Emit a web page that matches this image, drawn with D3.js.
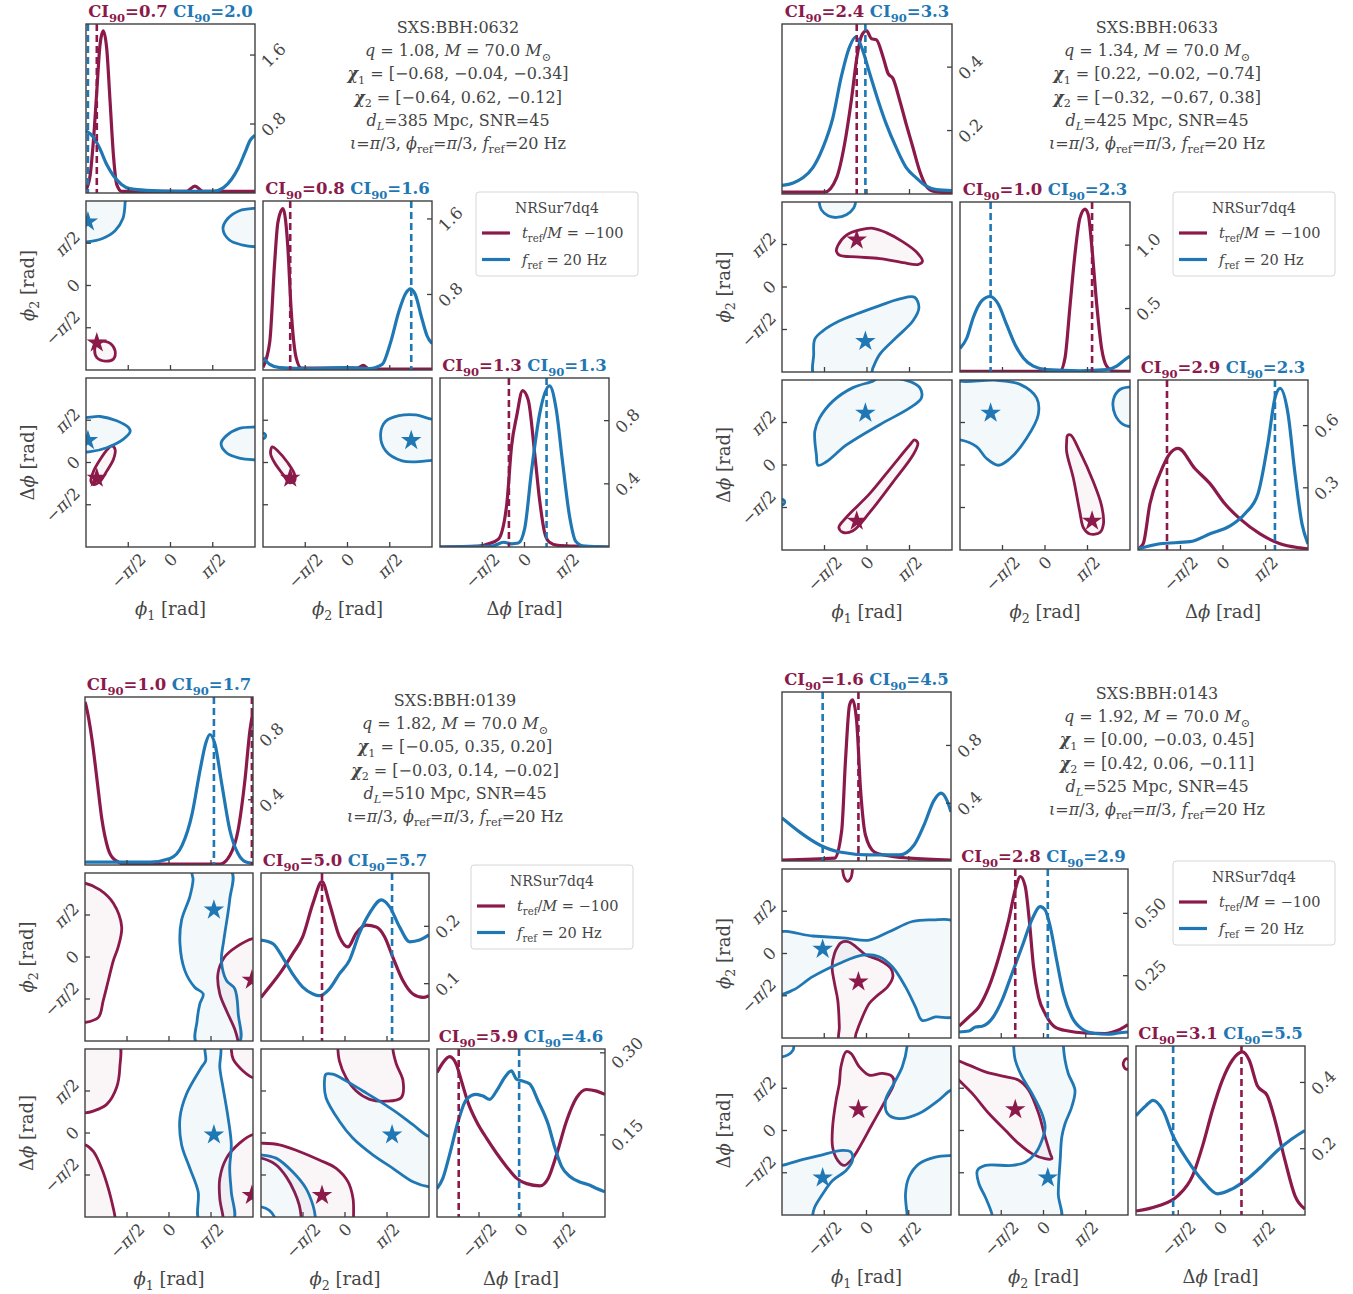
<!DOCTYPE html>
<html>
<head>
<meta charset="utf-8">
<script src="https://cdn.jsdelivr.net/npm/d3@7"></script>
<style>
  body { margin: 0; background: #fff; }
  text { font-family: "DejaVu Serif", "Liberation Serif", serif; fill: #454545; }
</style>
</head>
<body>
<svg id="fig" width="1353" height="1294"></svg>
<script>
// ---------------- shared values ----------------
const angleTicks = [-Math.PI / 2, 0, Math.PI / 2];
const angleTickLabels = ["−π/2", "0", "π/2"];
const totalMass = "70.0";
const snr = 45;
const trefLabel = "−100";
const frefLabel = "20 Hz";

// ---------------- SXS:BBH:0632 ----------------
const r0632_q = 1.08;
const r0632_chi1 = [-0.68, -0.04, -0.34];
const r0632_chi2 = [-0.64, 0.62, -0.12];
const r0632_dL = 385;
const r0632_ci = [["0.7", "2.0"], ["0.8", "1.6"], ["1.3", "1.3"]];
const r0632_top = [1.96, 1.79, 1.07];
const r0632_yticks = [["0.8", "1.6"], ["0.8", "1.6"], ["0.4", "0.8"]];
const r0632_truth_tref = [-2.74, -2.13, -0.58];
const r0632_truth_fref = [-3.07, 2.37, 0.82];
const r0632_phi1_tref = [[-3.14,0.04],[-2.99,0.2],[-2.87,0.59],[-2.74,1.18],[-2.62,1.72],[-2.50,1.88],[-2.37,1.67],[-2.25,1.08],[-2.12,0.43],[-2.00,0.1],[-1.82,0.02],[0.6,0.02],[0.91,0.08],[1.2,0.02],[3.14,0.02]];
const r0632_phi1_fref = [[-3.14,0.72],[-2.87,0.65],[-2.62,0.51],[-2.37,0.33],[-2.12,0.2],[-1.82,0.1],[-1.51,0.05],[-0.89,0.03],[0.35,0.02],[1.59,0.02],[1.96,0.06],[2.27,0.16],[2.52,0.29],[2.77,0.47],[2.96,0.61],[3.14,0.67]];
const r0632_phi2_tref = [[-3.14,0.03],[-2.89,0.3],[-2.71,1.13],[-2.59,1.56],[-2.40,1.71],[-2.22,1.31],[-2.10,0.66],[-1.91,0.13],[-1.72,0.02],[0.37,0.02],[0.58,0.05],[0.80,0.01],[3.14,0.01]];
const r0632_phi2_fref = [[-3.14,0.13],[-2.89,0.06],[-2.52,0.025],[-1.42,0.015],[-0.06,0.025],[0.80,0.015],[1.29,0.06],[1.60,0.29],[1.91,0.62],[2.16,0.81],[2.34,0.86],[2.52,0.80],[2.77,0.54],[2.96,0.36],[3.14,0.28]];
const r0632_dphi_tref = [[-3.14,0],[-1.71,0.005],[-1.34,0.02],[-0.97,0.05],[-0.66,0.27],[-0.48,0.64],[-0.29,0.83],[-0.07,0.99],[0.14,0.93],[0.38,0.59],[0.56,0.30],[0.75,0.09],[0.93,0.03],[1.24,0.01],[1.85,0.005],[3.14,0]];
const r0632_dphi_fref = [[-3.14,0],[-1.21,0.005],[-0.78,0.03],[-0.48,0.02],[-0.23,0.025],[0.01,0.12],[0.26,0.48],[0.56,0.84],[0.93,1.02],[1.18,0.87],[1.42,0.53],[1.67,0.2],[1.91,0.035],[2.22,0.005],[3.14,0]];
const r0632_phi1phi2_tref = [
  [[-2.61,-2.07],[-2.24,-2.15],[-2.06,-2.43],[-2.12,-2.73],[-2.43,-2.81],[-2.74,-2.68],[-2.82,-2.40],[-2.74,-2.15]]
];
const r0632_phi1phi2_fref = [
  [[-1.69,3.30],[-1.69,3.05],[-1.77,2.49],[-2.06,2.04],[-2.55,1.74],[-3.14,1.62],[-3.29,1.62],[-3.29,3.30]],
  [[3.14,2.87],[2.56,2.78],[2.13,2.49],[1.95,2.12],[2.19,1.69],[2.69,1.50],[3.14,1.44],[3.37,1.44],[3.37,2.87]]
];
const r0632_phi1dphi_tref = [
  [[-2.18,0.62],[-2.06,0.49],[-2.12,0.12],[-2.37,-0.32],[-2.61,-0.69],[-2.86,-0.82],[-2.96,-0.69],[-2.86,-0.32],[-2.61,0.12],[-2.34,0.49]]
];
const r0632_phi1dphi_fref = [
  [[-3.14,1.67],[-2.61,1.71],[-2.0,1.55],[-1.56,1.30],[-1.50,1.15],[-1.75,0.87],[-2.37,0.55],[-2.98,0.40],[-3.14,0.39],[-3.35,0.39],[-3.35,1.67]],
  [[3.14,1.32],[2.56,1.27],[2.07,0.99],[1.88,0.70],[2.07,0.37],[2.56,0.16],[3.14,0.10],[3.37,0.10],[3.37,1.32]]
];
const r0632_phi2dphi_tref = [
  [[-2.80,0.58],[-2.59,0.43],[-2.22,-0.01],[-1.97,-0.44],[-1.97,-0.69],[-2.16,-0.75],[-2.40,-0.44],[-2.71,-0.01],[-2.86,0.33]]
];
const r0632_phi2dphi_fref = [
  [[3.14,1.61],[2.53,1.77],[1.91,1.74],[1.42,1.53],[1.23,1.05],[1.42,0.43],[2.03,0.06],[2.65,0.03],[3.14,0.08],[3.39,0.08],[3.39,1.61]],
  [[-3.04,0.99],[-3.07,1.06],[-3.14,1.09],[-3.21,1.06],[-3.24,0.99],[-3.21,0.92],[-3.14,0.89],[-3.07,0.92]]
];

// ---------------- SXS:BBH:0633 ----------------
const r0633_q = 1.34;
const r0633_chi1 = [0.22, -0.02, -0.74];
const r0633_chi2 = [-0.32, -0.67, 0.38];
const r0633_dL = 425;
const r0633_ci = [["2.4", "3.3"], ["1.0", "2.3"], ["2.9", "2.3"]];
const r0633_top = [0.536, 1.34, 0.82];
const r0633_yticks = [["0.2", "0.4"], ["0.5", "1.0"], ["0.3", "0.6"]];
const r0633_truth_tref = [-0.38, 1.74, -2.07];
const r0633_truth_fref = [-0.06, -2.01, 1.92];
const r0633_phi1_tref = [[-3.14,0.006],[-1.56,0.006],[-1.13,0.05],[-0.83,0.157],[-0.58,0.295],[-0.37,0.433],[-0.21,0.497],[-0.02,0.515],[0.16,0.49],[0.35,0.486],[0.59,0.433],[0.78,0.38],[0.96,0.364],[1.21,0.295],[1.45,0.22],[1.70,0.146],[1.95,0.072],[2.19,0.025],[2.44,0.009],[3.14,0.003]];
const r0633_phi1_fref = [[-3.14,0.027],[-2.73,0.035],[-2.37,0.051],[-2.0,0.083],[-1.63,0.146],[-1.26,0.241],[-0.95,0.37],[-0.64,0.465],[-0.42,0.495],[-0.21,0.465],[0.10,0.38],[0.41,0.295],[0.71,0.221],[1.08,0.146],[1.45,0.083],[1.82,0.051],[2.19,0.025],[2.56,0.014],[3.14,0.011]];
const r0633_phi2_tref = [[-3.14,0.005],[0.55,0.005],[0.74,0.111],[0.92,0.51],[1.11,0.934],[1.29,1.213],[1.48,1.284],[1.60,1.24],[1.72,1.013],[1.91,0.536],[2.09,0.19],[2.28,0.046],[2.53,0.008],[3.14,0.005]];
const r0633_phi2_fref = [[-3.14,0.186],[-2.89,0.268],[-2.65,0.43],[-2.34,0.56],[-2.03,0.595],[-1.73,0.536],[-1.42,0.375],[-1.11,0.217],[-0.80,0.111],[-0.43,0.046],[0.06,0.019],[1.29,0.01],[2.28,0.019],[2.65,0.046],[2.96,0.098],[3.14,0.125]];
const r0633_dphi_tref = [[-3.14,0.005],[-2.95,0.03],[-2.70,0.223],[-2.33,0.369],[-1.96,0.466],[-1.66,0.49],[-1.04,0.393],[-0.48,0.32],[0.07,0.223],[0.63,0.15],[1.37,0.078],[2.11,0.03],[2.85,0.01],[3.14,0.005]];
const r0633_dphi_fref = [[-3.14,0.005],[-2.33,0.03],[-1.22,0.04],[-0.48,0.078],[0.26,0.116],[0.81,0.175],[1.29,0.27],[1.66,0.514],[1.92,0.733],[2.11,0.78],[2.40,0.66],[2.66,0.369],[2.92,0.126],[3.14,0.03]];
const r0633_phi1phi2_tref = [
  [[-1.07,1.55],[-0.76,1.92],[-0.27,2.11],[0.22,2.17],[0.71,2.01],[1.33,1.67],[1.82,1.30],[2.05,0.95],[1.88,0.83],[1.33,0.90],[0.47,1.05],[-0.39,1.11],[-1.01,1.17],[-1.13,1.32]]
];
const r0633_phi1phi2_fref = [
  [[-1.77,3.14],[-1.69,2.86],[-1.44,2.63],[-1.13,2.57],[-0.76,2.67],[-0.49,2.92],[-0.42,3.14],[-0.42,3.35],[-1.77,3.35]],
  [[-1.93,-1.93],[-1.63,-1.62],[-1.01,-1.25],[-0.39,-1.0],[0.47,-0.69],[1.21,-0.44],[1.76,-0.38],[1.92,-0.76],[1.70,-1.25],[1.08,-1.87],[0.47,-2.49],[0.22,-2.99],[0.10,-3.30],[-1.93,-3.30],[-1.97,-2.49]]
];
const r0633_phi1dphi_tref = [
  [[1.76,0.93],[1.88,0.80],[1.70,0.37],[0.96,-0.63],[0.10,-1.75],[-0.52,-2.43],[-0.89,-2.49],[-1.04,-2.31],[-0.76,-1.93],[0.10,-1.06],[0.96,-0.01],[1.58,0.74]]
];
const r0633_phi1dphi_fref = [
  [[-1.87,0.37],[-1.93,1.24],[-1.75,1.74],[-1.26,2.36],[-0.52,2.86],[0.22,3.10],[0.47,3.23],[1.45,3.13],[1.95,2.86],[2.01,2.48],[1.58,2.11],[0.47,1.49],[-0.76,0.74],[-1.50,0.12],[-1.81,-0.01]],
  [[-3.04,-1.37],[-3.07,-1.30],[-3.14,-1.27],[-3.21,-1.30],[-3.24,-1.37],[-3.21,-1.44],[-3.14,-1.47],[-3.07,-1.44]]
];
const r0633_phi2dphi_tref = [
  [[0.83,1.09],[0.95,1.11],[1.29,0.49],[1.79,-0.63],[2.09,-1.50],[2.16,-2.18],[2.03,-2.49],[1.66,-2.55],[1.42,-2.32],[1.29,-1.75],[1.05,-0.50],[0.80,0.49],[0.80,0.86]]
];
const r0633_phi2dphi_fref = [
  [[-3.14,3.10],[-1.79,3.13],[-0.92,2.98],[-0.31,2.48],[-0.25,1.86],[-0.68,0.99],[-1.29,0.24],[-1.72,-0.01],[-2.16,0.24],[-2.53,0.68],[-3.14,0.93],[-3.39,0.93],[-3.39,3.23]],
  [[3.14,2.88],[2.77,2.79],[2.53,2.42],[2.59,1.86],[2.90,1.49],[3.14,1.42],[3.33,1.42],[3.33,2.88]]
];

// ---------------- SXS:BBH:0139 ----------------
const r0139_q = 1.82;
const r0139_chi1 = [-0.05, 0.35, 0.20];
const r0139_chi2 = [-0.03, 0.14, -0.02];
const r0139_dL = 510;
const r0139_ci = [["1.0", "1.7"], ["5.0", "5.7"], ["5.9", "4.6"]];
const r0139_top = [1.03, 0.293, 0.307];
const r0139_yticks = [["0.4", "0.8"], ["0.1", "0.2"], ["0.15", "0.30"]];
const r0139_truth_tref = [3.10, -0.86, -2.33];
const r0139_truth_fref = [1.68, 1.76, -0.07];
const r0139_phi1_tref = [[-3.14,1.0],[-3.10,0.975],[-2.88,0.77],[-2.69,0.52],[-2.51,0.28],[-2.28,0.1],[-2.02,0.03],[-1.65,0.006],[1.91,0.006],[2.28,0.06],[2.58,0.21],[2.84,0.52],[3.03,0.83],[3.14,0.94]];
const r0139_phi1_fref = [[-3.14,0.018],[-0.71,0.018],[0.04,0.04],[0.49,0.12],[0.86,0.31],[1.16,0.58],[1.38,0.75],[1.53,0.8],[1.72,0.74],[1.98,0.49],[2.28,0.21],[2.58,0.07],[2.88,0.018],[3.14,0.01]];
const r0139_phi2_tref = [[-3.14,0.076],[-2.83,0.094],[-2.45,0.117],[-1.96,0.152],[-1.58,0.182],[-1.20,0.24],[-0.86,0.278],[-0.58,0.24],[-0.21,0.182],[0.11,0.164],[0.42,0.188],[0.79,0.202],[1.17,0.199],[1.48,0.182],[1.79,0.146],[2.17,0.105],[2.54,0.082],[2.92,0.076],[3.14,0.079]];
const r0139_phi2_fref = [[-3.14,0.176],[-2.70,0.17],[-2.33,0.146],[-1.96,0.117],[-1.58,0.094],[-1.20,0.082],[-0.96,0.079],[-0.58,0.091],[-0.21,0.117],[0.17,0.141],[0.54,0.188],[0.92,0.223],[1.36,0.246],[1.67,0.234],[2.04,0.199],[2.42,0.173],[2.79,0.176],[3.14,0.185]];
const r0139_dphi_tref = [[-3.14,0.264],[-2.92,0.282],[-2.67,0.293],[-2.42,0.279],[-2.23,0.249],[-1.98,0.209],[-1.67,0.175],[-1.29,0.144],[-0.92,0.117],[-0.54,0.092],[-0.17,0.071],[0.21,0.061],[0.71,0.057],[1.02,0.071],[1.33,0.114],[1.70,0.175],[2.08,0.218],[2.45,0.233],[2.83,0.23],[3.14,0.224]];
const r0139_dphi_fref = [[-3.14,0.052],[-2.92,0.071],[-2.67,0.114],[-2.35,0.175],[-2.04,0.215],[-1.67,0.224],[-1.42,0.221],[-1.17,0.215],[-0.92,0.23],[-0.61,0.255],[-0.36,0.267],[-0.17,0.252],[0.02,0.249],[0.33,0.243],[0.64,0.212],[1.02,0.169],[1.27,0.126],[1.52,0.092],[1.83,0.074],[2.20,0.064],[2.58,0.058],[2.83,0.052],[3.14,0.046]];
const r0139_phi1phi2_tref = [
  [[-3.14,2.76],[-2.58,2.51],[-2.08,2.01],[-1.77,1.13],[-1.90,0.38],[-2.08,-0.13],[-2.27,-0.88],[-2.46,-1.63],[-2.64,-2.26],[-3.14,-2.45],[-3.33,-2.45],[-3.33,2.76]],
  [[3.14,0.69],[2.52,0.38],[2.08,0.0],[1.83,-0.63],[1.90,-1.38],[2.15,-2.01],[2.46,-2.70],[2.58,-3.14],[2.60,-3.35],[3.39,-3.35],[3.39,0.69]]
];
const r0139_phi1phi2_fref = [
  [[0.88,3.20],[0.90,2.89],[0.78,2.26],[0.47,1.38],[0.41,0.50],[0.59,-0.50],[0.96,-1.13],[1.28,-1.38],[1.15,-1.76],[1.05,-2.39],[1.03,-3.20],[2.62,-3.20],[2.59,-2.14],[2.46,-1.19],[2.15,-0.88],[1.96,-0.13],[2.05,0.63],[2.27,2.14],[2.33,3.20]]
];
const r0139_phi1dphi_tref = [
  [[-1.90,3.39],[-1.84,2.45],[-1.96,1.70],[-2.33,1.07],[-2.83,0.82],[-3.14,0.75],[-3.33,0.75],[-3.33,3.39]],
  [[-3.14,-0.44],[-2.83,-0.69],[-2.52,-1.32],[-2.27,-2.07],[-2.08,-2.83],[-2.02,-3.14],[-2.02,-3.39],[-3.33,-3.39],[-3.33,-0.44]],
  [[3.14,2.07],[2.77,2.32],[2.40,2.76],[2.33,3.14],[2.33,3.39],[3.39,3.39],[3.39,2.07]],
  [[3.14,-0.06],[2.64,-0.38],[2.15,-0.94],[1.90,-1.70],[1.90,-2.45],[2.02,-3.14],[2.02,-3.39],[3.39,-3.39],[3.39,-0.06]]
];
const r0139_phi1dphi_fref = [
  [[1.37,3.27],[1.37,2.70],[1.21,2.45],[0.65,1.45],[0.41,0.57],[0.47,-0.44],[0.78,-1.32],[1.09,-2.20],[1.15,-3.27],[2.40,-3.27],[2.33,-2.20],[2.27,-1.32],[2.33,-0.44],[2.21,0.57],[2.02,1.70],[1.90,2.45],[1.90,3.27]]
];
const r0139_phi2dphi_tref = [
  [[-0.27,3.20],[-0.21,2.70],[0.04,2.07],[0.42,1.57],[0.92,1.26],[1.54,1.19],[2.10,1.32],[2.17,1.95],[1.92,2.58],[1.79,3.14],[1.79,3.33],[-0.27,3.33]],
  [[-3.14,-0.38],[-2.45,-0.44],[-1.71,-0.69],[-0.96,-1.01],[-0.33,-1.32],[0.11,-1.82],[0.30,-2.45],[0.32,-3.14],[0.32,-3.39],[-3.45,-3.39],[-3.45,-0.38]],
  [[-3.14,-0.94],[-2.58,-1.19],[-2.20,-1.63],[-1.89,-2.20],[-1.71,-2.70],[-1.64,-3.14],[-1.64,-3.39],[-3.45,-3.39],[-3.45,-0.94]]
];
const r0139_phi2dphi_fref = [
  [[-0.71,2.20],[-0.46,2.20],[0.04,1.95],[0.67,1.57],[1.29,1.19],[2.04,0.69],[2.54,0.31],[3.14,-0.13],[3.40,-0.13],[3.40,-2.01],[3.14,-2.01],[2.54,-1.82],[1.79,-1.32],[1.04,-0.82],[0.29,-0.19],[-0.21,0.44],[-0.71,1.32],[-0.77,1.88]],
  [[-3.14,-0.82],[-2.58,-0.94],[-1.96,-1.45],[-1.46,-2.07],[-1.20,-2.70],[-1.11,-3.14],[-1.11,-3.39],[-3.45,-3.39],[-3.45,-0.82]],
  [[-3.14,-2.76],[-2.83,-2.89],[-2.64,-3.14],[-2.58,-3.39],[-3.45,-3.39],[-3.45,-2.76]]
];

// ---------------- SXS:BBH:0143 ----------------
const r0143_q = 1.92;
const r0143_chi1 = [0.00, -0.03, 0.45];
const r0143_chi2 = [0.42, 0.06, -0.11];
const r0143_dL = 525;
const r0143_ci = [["1.6", "4.5"], ["2.8", "2.9"], ["3.1", "5.5"]];
const r0143_top = [1.17, 0.678, 0.51];
const r0143_yticks = [["0.4", "0.8"], ["0.25", "0.50"], ["0.2", "0.4"]];
const r0143_truth_tref = [-0.30, -1.05, 0.78];
const r0143_truth_fref = [-1.63, 0.16, -1.76];
const r0143_phi1_tref = [[-3.14,0.007],[-1.18,0.02],[-0.92,0.215],[-0.78,0.70],[-0.63,1.08],[-0.52,1.115],[-0.37,0.976],[-0.22,0.49],[-0.04,0.18],[0.30,0.062],[0.85,0.035],[1.59,0.02],[3.14,0.007]];
const r0143_phi1_fref = [[-3.14,0.298],[-2.48,0.2],[-1.74,0.111],[-1.0,0.062],[0.11,0.042],[1.22,0.042],[1.77,0.111],[2.14,0.25],[2.51,0.42],[2.77,0.47],[2.99,0.42],[3.14,0.34]];
const r0143_phi2_tref = [[-3.14,0.048],[-2.77,0.085],[-2.40,0.125],[-2.03,0.205],[-1.66,0.325],[-1.29,0.475],[-1.05,0.595],[-0.86,0.648],[-0.68,0.608],[-0.53,0.475],[-0.37,0.285],[-0.18,0.163],[0.06,0.098],[0.43,0.044],[0.92,0.028],[1.54,0.02],[2.28,0.018],[2.77,0.031],[3.14,0.054]];
const r0143_phi2_fref = [[-3.14,0.024],[-2.77,0.028],[-2.53,0.044],[-2.28,0.047],[-1.91,0.078],[-1.54,0.152],[-1.17,0.259],[-0.80,0.366],[-0.43,0.475],[-0.12,0.527],[0.06,0.514],[0.25,0.447],[0.49,0.312],[0.74,0.178],[1.05,0.085],[1.42,0.037],[1.91,0.018],[2.40,0.015],[2.77,0.02],[3.14,0.024]];
const r0143_dphi_tref = [[-3.14,0.012],[-2.33,0.027],[-1.59,0.058],[-1.04,0.118],[-0.66,0.21],[-0.30,0.316],[0.07,0.407],[0.44,0.467],[0.81,0.492],[1.07,0.467],[1.37,0.39],[1.74,0.36],[2.03,0.285],[2.40,0.164],[2.77,0.058],[3.14,0.018]];
const r0143_dphi_fref = [[-3.14,0.3],[-2.77,0.33],[-2.51,0.346],[-2.14,0.316],[-1.77,0.24],[-1.22,0.164],[-0.66,0.103],[-0.11,0.064],[0.44,0.079],[1.0,0.109],[1.55,0.149],[2.11,0.194],[2.66,0.23],[3.14,0.255]];
const r0143_phi1phi2_tref = [
  [[-0.89,3.14],[-0.82,2.81],[-0.70,2.68],[-0.58,2.81],[-0.52,3.14],[-0.52,3.30],[-0.89,3.30]],
  [[-1.07,0.25],[-0.95,0.40],[-0.70,0.44],[-0.39,0.25],[-0.02,-0.06],[0.47,-0.24],[0.90,-0.55],[0.98,-0.86],[0.78,-1.24],[0.35,-1.61],[0.10,-1.86],[-0.15,-2.36],[-0.39,-2.98],[-0.46,-3.23],[-1.01,-3.23],[-1.01,-2.73],[-1.07,-1.73],[-1.19,-1.11],[-1.28,-0.49],[-1.19,0.0]]
];
const r0143_phi1phi2_fref = [
  [[-3.35,0.73],[-2.0,0.65],[-0.76,0.57],[0.10,0.50],[0.84,0.81],[1.70,1.19],[2.44,1.25],[3.30,1.13],[3.30,-2.30],[2.56,-2.36],[2.07,-2.49],[1.82,-1.98],[1.45,-1.24],[0.96,-0.49],[0.47,-0.12],[-0.15,-0.06],[-1.01,-0.37],[-2.0,-0.86],[-2.73,-1.36],[-3.35,-1.51]]
];
const r0143_phi1dphi_tref = [
  [[-0.95,2.37],[-0.76,2.93],[-0.58,2.87],[-0.27,2.37],[0.10,2.06],[0.59,2.12],[0.96,2.0],[1.02,1.75],[0.71,1.13],[0.22,0.25],[-0.33,-0.74],[-0.58,-1.11],[-0.83,-1.30],[-1.07,-1.11],[-1.26,-0.62],[-1.26,0.13],[-1.13,1.13],[-1.01,1.75]]
];
const r0143_phi1dphi_fref = [
  [[-3.14,2.74],[-2.92,2.81],[-2.73,2.99],[-2.70,3.14],[-2.70,3.30],[-3.35,3.30],[-3.35,2.74]],
  [[1.51,3.14],[1.33,2.37],[1.02,1.75],[0.71,1.13],[0.78,0.63],[1.21,0.44],[1.95,0.63],[2.69,1.13],[3.14,1.50],[3.30,1.50],[3.30,3.30],[1.51,3.30]],
  [[-3.14,-1.30],[-2.49,-1.11],[-1.75,-0.93],[-0.89,-0.74],[-0.58,-0.80],[-0.52,-1.11],[-0.76,-1.49],[-1.26,-1.86],[-1.63,-2.36],[-1.93,-2.86],[-2.0,-3.14],[-2.0,-3.35],[-3.35,-3.35],[-3.35,-1.30]],
  [[1.51,-3.14],[1.45,-2.36],[1.58,-1.73],[1.95,-1.24],[2.56,-0.99],[3.14,-0.93],[3.30,-0.93],[3.30,-3.35],[1.51,-3.35]]
];
const r0143_phi2dphi_tref = [
  [[-3.39,2.62],[-2.77,2.43],[-2.16,2.18],[-1.42,2.0],[-0.92,1.87],[-0.55,1.50],[-0.18,0.63],[0.06,-0.24],[0.25,-0.86],[0.31,-1.05],[0.06,-1.05],[-0.43,-0.86],[-0.92,-0.49],[-1.42,0.01],[-2.03,0.63],[-2.65,1.38],[-3.14,1.87],[-3.39,2.12]],
  [[3.10,2.67],[3.22,2.55],[3.22,2.39],[3.10,2.27],[2.98,2.39],[2.98,2.55]]
];
const r0143_phi2dphi_fref = [
  [[-1.11,3.37],[-1.11,3.14],[-1.05,2.62],[-0.80,2.0],[-0.43,1.38],[-0.06,0.63],[0.06,0.13],[-0.06,-0.37],[-0.31,-0.86],[-0.68,-1.18],[-1.17,-1.30],[-2.16,-1.30],[-2.46,-1.49],[-2.40,-1.98],[-2.16,-2.48],[-1.91,-3.14],[-1.91,-3.35],[0.62,-3.35],[0.55,-2.36],[0.62,-1.11],[0.68,-0.24],[0.80,0.25],[1.05,0.88],[1.17,1.50],[0.92,2.12],[0.80,2.62],[0.74,3.14],[0.74,3.37]]
];

// ---------------- page layout ----------------
const layout = [
  { x: 86,  y: 24,  size: 169, step: 177, textX: 458,  textY: 33,  legX: 476,  legY: 192 },
  { x: 782, y: 24,  size: 170, step: 178, textX: 1157, textY: 33,  legX: 1173, legY: 192 },
  { x: 85,  y: 697, size: 168, step: 176, textX: 455,  textY: 706, legX: 471,  legY: 865 },
  { x: 782, y: 692, size: 169, step: 177, textX: 1157, textY: 699, legX: 1173, legY: 861 }
];

// table built from the arrays above
function makeRun(name, p) {
  return {
    name: name, q: p.q, chi1: p.chi1, chi2: p.chi2, dL: p.dL, ci: p.ci, top: p.top, yticks: p.yticks,
    truth: { tref: p.truth_tref, fref: p.truth_fref },
    dens: { tref: [p.phi1_tref, p.phi2_tref, p.dphi_tref], fref: [p.phi1_fref, p.phi2_fref, p.dphi_fref] },
    cont: { "1,0": { tref: p.phi1phi2_tref, fref: p.phi1phi2_fref },
            "2,0": { tref: p.phi1dphi_tref, fref: p.phi1dphi_fref },
            "2,1": { tref: p.phi2dphi_tref, fref: p.phi2dphi_fref } }
  };
}
const runs = [
  makeRun("0632", { q: r0632_q, chi1: r0632_chi1, chi2: r0632_chi2, dL: r0632_dL, ci: r0632_ci, top: r0632_top, yticks: r0632_yticks,
    truth_tref: r0632_truth_tref, truth_fref: r0632_truth_fref,
    phi1_tref: r0632_phi1_tref, phi2_tref: r0632_phi2_tref, dphi_tref: r0632_dphi_tref,
    phi1_fref: r0632_phi1_fref, phi2_fref: r0632_phi2_fref, dphi_fref: r0632_dphi_fref,
    phi1phi2_tref: r0632_phi1phi2_tref, phi1phi2_fref: r0632_phi1phi2_fref,
    phi1dphi_tref: r0632_phi1dphi_tref, phi1dphi_fref: r0632_phi1dphi_fref,
    phi2dphi_tref: r0632_phi2dphi_tref, phi2dphi_fref: r0632_phi2dphi_fref }),
  makeRun("0633", { q: r0633_q, chi1: r0633_chi1, chi2: r0633_chi2, dL: r0633_dL, ci: r0633_ci, top: r0633_top, yticks: r0633_yticks,
    truth_tref: r0633_truth_tref, truth_fref: r0633_truth_fref,
    phi1_tref: r0633_phi1_tref, phi2_tref: r0633_phi2_tref, dphi_tref: r0633_dphi_tref,
    phi1_fref: r0633_phi1_fref, phi2_fref: r0633_phi2_fref, dphi_fref: r0633_dphi_fref,
    phi1phi2_tref: r0633_phi1phi2_tref, phi1phi2_fref: r0633_phi1phi2_fref,
    phi1dphi_tref: r0633_phi1dphi_tref, phi1dphi_fref: r0633_phi1dphi_fref,
    phi2dphi_tref: r0633_phi2dphi_tref, phi2dphi_fref: r0633_phi2dphi_fref }),
  makeRun("0139", { q: r0139_q, chi1: r0139_chi1, chi2: r0139_chi2, dL: r0139_dL, ci: r0139_ci, top: r0139_top, yticks: r0139_yticks,
    truth_tref: r0139_truth_tref, truth_fref: r0139_truth_fref,
    phi1_tref: r0139_phi1_tref, phi2_tref: r0139_phi2_tref, dphi_tref: r0139_dphi_tref,
    phi1_fref: r0139_phi1_fref, phi2_fref: r0139_phi2_fref, dphi_fref: r0139_dphi_fref,
    phi1phi2_tref: r0139_phi1phi2_tref, phi1phi2_fref: r0139_phi1phi2_fref,
    phi1dphi_tref: r0139_phi1dphi_tref, phi1dphi_fref: r0139_phi1dphi_fref,
    phi2dphi_tref: r0139_phi2dphi_tref, phi2dphi_fref: r0139_phi2dphi_fref }),
  makeRun("0143", { q: r0143_q, chi1: r0143_chi1, chi2: r0143_chi2, dL: r0143_dL, ci: r0143_ci, top: r0143_top, yticks: r0143_yticks,
    truth_tref: r0143_truth_tref, truth_fref: r0143_truth_fref,
    phi1_tref: r0143_phi1_tref, phi2_tref: r0143_phi2_tref, dphi_tref: r0143_dphi_tref,
    phi1_fref: r0143_phi1_fref, phi2_fref: r0143_phi2_fref, dphi_fref: r0143_dphi_fref,
    phi1phi2_tref: r0143_phi1phi2_tref, phi1phi2_fref: r0143_phi1phi2_fref,
    phi1dphi_tref: r0143_phi1dphi_tref, phi1dphi_fref: r0143_phi1dphi_fref,
    phi2dphi_tref: r0143_phi2dphi_tref, phi2dphi_fref: r0143_phi2dphi_fref })
];

//colours
const colour = { tref: "#8b1a4b", fref: "#1f77b4" };
const shade = { tref: "rgba(139,26,75,0.045)", fref: "rgba(31,119,180,0.055)" };
const frameColour = "#404040";

const svg = d3.select("#fig");
let clipCount = 0;

/*----------------------
HELP FUNCTIONS
----------------------*/
// segments: [text, style] style letters: i italic, B bold, s subscript
function rich(textSel, segs, fs) {
  let shift = 0;
  segs.forEach(([t, st]) => {
    st = st || "";
    const sp = textSel.append("tspan").text(t);
    let target = 0;
    if (st.includes("s")) { target = fs * 0.28; sp.attr("font-size", fs * 0.7); }
    if (st.includes("i")) sp.attr("font-style", "italic");
    if (st.includes("B")) sp.attr("font-weight", "bold");
    if (target !== shift) { sp.attr("dy", target - shift); shift = target; }
  });
  return textSel;
}

function piSegs(str) {
  const parts = str.split("π");
  const segs = [];
  parts.forEach((p, i) => {
    if (p) segs.push([p]);
    if (i < parts.length - 1) segs.push(["π", "i"]);
  });
  return segs;
}

function fmt(v) {
  return (v < 0 ? "−" : "") + Math.abs(v).toFixed(2);
}

// rotated (-45deg) tick label; place(d) returns centre given bbox side d
function rotatedLabel(g, str, fs, place) {
  const t = g.append("text")
    .attr("font-size", fs)
    .attr("text-anchor", "middle")
    .attr("dominant-baseline", "central");
  rich(t, piSegs(str), fs);
  const w = t.node().getComputedTextLength();
  const d = (w + fs * 0.7) * Math.SQRT1_2;
  const [cx, cy] = place(d);
  t.attr("transform", `translate(${cx},${cy}) rotate(-45)`);
}

const paramSegs = [
  [["ϕ", "i"], ["1", "s"], [" [rad]"]],
  [["ϕ", "i"], ["2", "s"], [" [rad]"]],
  [["Δ"], ["ϕ", "i"], [" [rad]"]]
];

const tickFont = 16.5;

/*----------------------
PANELS
----------------------*/
function panelFrame(g, px, py, size) {
  g.append("rect")
    .attr("x", px).attr("y", py).attr("width", size).attr("height", size)
    .attr("fill", "none").attr("stroke", frameColour).attr("stroke-width", 1.4);
}

function clipFor(g, px, py, size) {
  const id = "clip" + (clipCount++);
  g.append("clipPath").attr("id", id)
    .append("rect").attr("x", px).attr("y", py).attr("width", size).attr("height", size);
  return g.append("g").attr("clip-path", `url(#${id})`);
}

function drawDiag(g, run, k, px, py, size, bottomRow) {
  const xs = d3.scaleLinear().domain([-Math.PI, Math.PI]).range([px, px + size]);
  const ys = d3.scaleLinear().domain([0, run.top[k]]).range([py + size, py]);
  const inner = clipFor(g, px, py, size);

  ["tref", "fref"].forEach(key => {
    const line = d3.line().x(d => xs(d[0])).y(d => ys(d[1])).curve(d3.curveMonotoneX);
    inner.append("path")
      .attr("d", line(run.dens[key][k]))
      .attr("fill", "none").attr("stroke", colour[key]).attr("stroke-width", 3.2)
      .attr("stroke-linejoin", "round");
  });
  ["tref", "fref"].forEach(key => {
    inner.append("line")
      .attr("x1", xs(run.truth[key][k])).attr("x2", xs(run.truth[key][k]))
      .attr("y1", py).attr("y2", py + size)
      .attr("stroke", colour[key]).attr("stroke-width", 2.6).attr("stroke-dasharray", "7,4");
  });

  // x ticks
  angleTicks.forEach((t, i) => {
    g.append("line").attr("x1", xs(t)).attr("x2", xs(t))
      .attr("y1", py + size).attr("y2", py + size - 5)
      .attr("stroke", frameColour).attr("stroke-width", 1.3);
    if (bottomRow) rotatedLabel(g, angleTickLabels[i], tickFont, d => [xs(t), py + size + 5 + d / 2]);
  });
  // right y ticks
  run.yticks[k].forEach(lab => {
    const y = ys(+lab);
    g.append("line").attr("x1", px + size).attr("x2", px + size - 5)
      .attr("y1", y).attr("y2", y)
      .attr("stroke", frameColour).attr("stroke-width", 1.3);
    rotatedLabel(g, lab, tickFont, d => [px + size + 5 + d / 2, y]);
  });
  panelFrame(g, px, py, size);

  // CI title, two coloured parts
  const fs = 16.5;
  const title = g.append("text")
    .attr("x", px + size / 2).attr("y", py - 7)
    .attr("text-anchor", "middle")
    .attr("font-size", fs);
  const t1 = title.append("tspan");
  rich(t1, [["CI", "B"], ["90", "Bs"], ["=" + run.ci[k][0], "B"]], fs);
  const t2 = title.append("tspan");
  rich(t2, [[" CI", "B"], ["90", "Bs"], ["=" + run.ci[k][1], "B"]], fs);
  t1.selectAll("tspan").style("fill", colour.tref);
  t2.selectAll("tspan").style("fill", colour.fref);
}

function drawPair(g, run, row, col, px, py, size, bottomRow, leftCol) {
  const xs = d3.scaleLinear().domain([-Math.PI, Math.PI]).range([px, px + size]);
  const ys = d3.scaleLinear().domain([-Math.PI, Math.PI]).range([py + size, py]);
  const inner = clipFor(g, px, py, size);
  const ring = d3.line().x(d => xs(d[0])).y(d => ys(d[1])).curve(d3.curveCatmullRomClosed.alpha(0.5));
  const c = run.cont[row + "," + col];

  ["tref", "fref"].forEach(key => {
    inner.append("path")
      .attr("d", c[key].map(r => ring(r)).join(""))
      .attr("fill", shade[key]).attr("fill-rule", "evenodd")
      .attr("stroke", colour[key]).attr("stroke-width", 2.8);
  });
  ["tref", "fref"].forEach(key => {
    inner.append("path")
      .attr("d", d3.symbol(d3.symbolStar, 130)())
      .attr("transform", `translate(${xs(run.truth[key][col])},${ys(run.truth[key][row])})`)
      .attr("fill", colour[key]);
  });

  angleTicks.forEach((t, i) => {
    g.append("line").attr("x1", xs(t)).attr("x2", xs(t))
      .attr("y1", py + size).attr("y2", py + size - 5)
      .attr("stroke", frameColour).attr("stroke-width", 1.3);
    g.append("line").attr("x1", px).attr("x2", px + 5)
      .attr("y1", ys(t)).attr("y2", ys(t))
      .attr("stroke", frameColour).attr("stroke-width", 1.3);
    if (bottomRow) rotatedLabel(g, angleTickLabels[i], tickFont, d => [xs(t), py + size + 5 + d / 2]);
    if (leftCol) rotatedLabel(g, angleTickLabels[i], tickFont, d => [px - 5 - d / 2, ys(t)]);
  });
  panelFrame(g, px, py, size);
}

function drawInfo(g, run, L) {
  const lines = [
    [["SXS:BBH:" + run.name]],
    [["q", "i"], [" = " + run.q.toFixed(2) + ", "], ["M", "i"], [" = " + totalMass + " "], ["M", "i"], ["⊙", "s"]],
    [["χ", "Bi"], ["1", "s"], [" = [" + run.chi1.map(fmt).join(", ") + "]"]],
    [["χ", "Bi"], ["2", "s"], [" = [" + run.chi2.map(fmt).join(", ") + "]"]],
    [["d", "i"], ["L", "is"], ["=" + run.dL + " Mpc, SNR=" + snr]],
    [["ι", "i"], ["="], ["π", "i"], ["/3, "], ["ϕ", "i"], ["ref", "s"], ["="], ["π", "i"], ["/3, "], ["f", "i"], ["ref", "s"], ["=20 Hz"]]
  ];
  lines.forEach((segs, i) => {
    const t = g.append("text")
      .attr("x", L.textX).attr("y", L.textY + i * 23.2)
      .attr("text-anchor", "middle").attr("font-size", 16);
    rich(t, segs, 16);
  });
}

function drawLegend(g, L) {
  const w = 162, h = 84;
  g.append("rect")
    .attr("x", L.legX).attr("y", L.legY).attr("width", w).attr("height", h)
    .attr("rx", 3).attr("fill", "#fff").attr("stroke", "#d6d6d6").attr("stroke-width", 1);
  g.append("text")
    .attr("x", L.legX + w / 2).attr("y", L.legY + 21)
    .attr("text-anchor", "middle").attr("font-size", 14)
    .text("NRSur7dq4");
  const entries = [
    ["tref", [["t", "i"], ["ref", "s"], ["/"], ["M", "i"], [" = " + trefLabel]]],
    ["fref", [["f", "i"], ["ref", "s"], [" = " + frefLabel]]]
  ];
  entries.forEach(([key, segs], i) => {
    const y = L.legY + 41 + i * 26.5;
    g.append("line")
      .attr("x1", L.legX + 6).attr("x2", L.legX + 34)
      .attr("y1", y).attr("y2", y)
      .attr("stroke", colour[key]).attr("stroke-width", 3.2);
    const t = g.append("text")
      .attr("x", L.legX + 46).attr("y", y + 5).attr("font-size", 14.5);
    rich(t, segs, 14.5);
  });
}

/*----------------------
DRAW EVERYTHING
----------------------*/
runs.forEach((run, qi) => {
  const L = layout[qi];
  const g = svg.append("g");
  for (let row = 0; row < 3; row++) {
    for (let col = 0; col <= row; col++) {
      const px = L.x + col * L.step;
      const py = L.y + row * L.step;
      if (row === col) drawDiag(g, run, row, px, py, L.size, row === 2);
      else drawPair(g, run, row, col, px, py, L.size, row === 2, col === 0);
    }
  }
  // axis labels
  for (let k = 0; k < 3; k++) {
    const t = g.append("text")
      .attr("x", L.x + k * L.step + L.size / 2)
      .attr("y", L.y + 2 * L.step + L.size + 68)
      .attr("text-anchor", "middle").attr("font-size", 18);
    rich(t, paramSegs[k], 18);
  }
  for (let k = 1; k < 3; k++) {
    const cy = L.y + k * L.step + L.size / 2;
    const cx = L.x - 52;
    const t = g.append("text")
      .attr("transform", `translate(${cx},${cy}) rotate(-90)`)
      .attr("text-anchor", "middle").attr("font-size", 18);
    rich(t, paramSegs[k], 18);
  }
  drawInfo(g, run, L);
  drawLegend(g, L);
});
</script>
</body>
</html>
